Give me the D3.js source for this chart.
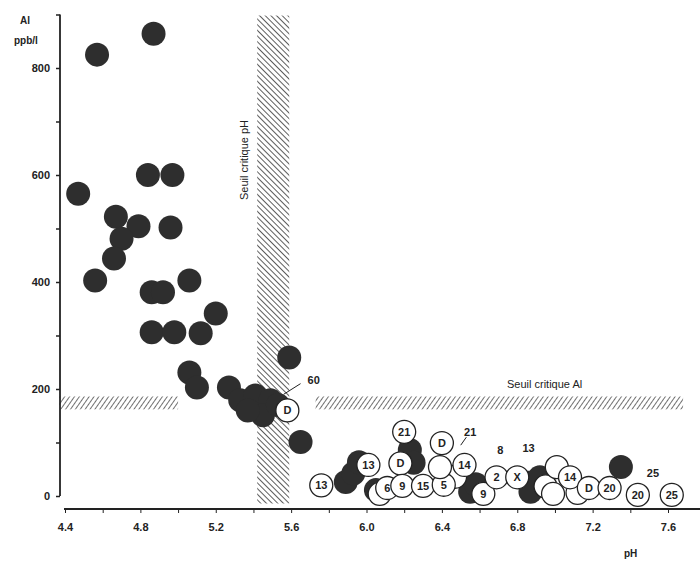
<!DOCTYPE html>
<html>
<head>
<meta charset="utf-8">
<script src="https://cdn.jsdelivr.net/npm/d3@7"></script>
<style>
  body { margin: 0; background: #fff; }
  svg { font-family: "Liberation Sans", Arial, sans-serif; }
  .tick text { font-size: 11px; font-weight: bold; fill: #222; }
</style>
</head>
<body>
<div id="chart"></div>
<script>
// filled dots: [pH, Al]
const filledDots = [
  [4.57, 825], [4.87, 864], [4.47, 565], [4.84, 600], [4.97, 600],
  [4.67, 522], [4.79, 504], [4.70, 481], [4.66, 444], [4.56, 403],
  [4.96, 502], [4.86, 381], [4.92, 381], [5.06, 403], [5.20, 341],
  [4.86, 306], [4.98, 306], [5.12, 304], [5.06, 231], [5.10, 203],
  [5.27, 203], [5.33, 179], [5.41, 188], [5.49, 179], [5.45, 151],
  [5.37, 160], [5.53, 170], [5.59, 259], [5.65, 101],
  [5.89, 26], [5.93, 42], [5.96, 63], [6.05, 11], [6.23, 86], [6.25, 62],
  [6.55, 8], [6.58, 22], [6.86, 25], [6.87, 8], [6.92, 35], [7.35, 54]
];

// open dots: [pH, Al, label]
const openDots = [
  [5.58, 160, "D"], [5.76, 20, "13"], [6.07, 4, ""], [6.01, 58, "13"],
  [6.20, 120, "21"], [6.18, 61, "D"], [6.11, 15, "6"], [6.19, 19, "9"],
  [6.30, 19, "15"], [6.47, 36, ""], [6.41, 21, "5"], [6.40, 99, "D"],
  [6.39, 54, ""], [6.52, 58, "14"], [6.62, 4, "9"], [6.69, 35, "2"],
  [6.80, 35, "X"], [6.95, 18, ""], [7.01, 54, ""], [7.12, 6, ""],
  [7.08, 35, "14"], [6.99, 4, ""], [7.18, 15, "D"], [7.29, 15, "20"],
  [7.44, 2, "20"], [7.62, 2, "25"]
];

// loose labels next to points: [pH, Al, text]
const pointNotes = [
  [5.72, 216, "60"], [6.55, 119, "21"], [6.71, 86, "8"],
  [6.86, 90, "13"], [7.52, 43, "25"]
];
// leader lines: [pH1, Al1, pH2, Al2]
const leaders = [
  [5.65, 210, 5.56, 190], [6.53, 110, 6.50, 95]
];

const xTicks = d3.range(4.4, 7.81, 0.2).map(v => +v.toFixed(1));
const xLabels = [4.4, 4.8, 5.2, 5.6, 6.0, 6.4, 6.8, 7.2, 7.6];
const yTicks = d3.range(0, 901, 100);
const yLabels = [0, 200, 400, 600, 800];

// threshold bands
const phBand = { from: 5.42, to: 5.59, alLow: -14, alHigh: 898 };
const alBand = { low: 162, high: 186, segments: [[4.37, 5.0], [5.73, 7.68]] };

const width = 700, height = 561;

const svg = d3.select("#chart").append("svg")
  .attr("width", width)
  .attr("height", height);

const x = d3.scaleLinear().domain([4.4, 7.6]).range([65, 668]);
const y = d3.scaleLinear().domain([0, 800]).range([496, 68]);

// hatch patterns
const defs = svg.append("defs");
const hatchV = defs.append("pattern")
  .attr("id", "hatchV")
  .attr("patternUnits", "userSpaceOnUse")
  .attr("width", 4).attr("height", 4)
  .attr("patternTransform", "rotate(-45)");
hatchV.append("line")
  .attr("x1", 0).attr("y1", 0).attr("x2", 0).attr("y2", 4)
  .attr("stroke", "#333").attr("stroke-width", 1.6);

const hatchH = defs.append("pattern")
  .attr("id", "hatchH")
  .attr("patternUnits", "userSpaceOnUse")
  .attr("width", 4).attr("height", 4)
  .attr("patternTransform", "rotate(35)");
hatchH.append("line")
  .attr("x1", 0).attr("y1", 0).attr("x2", 0).attr("y2", 4)
  .attr("stroke", "#333").attr("stroke-width", 1.4);

// vertical band (pH threshold)
svg.append("rect")
  .attr("x", x(phBand.from))
  .attr("y", y(phBand.alHigh))
  .attr("width", x(phBand.to) - x(phBand.from))
  .attr("height", y(phBand.alLow) - y(phBand.alHigh))
  .attr("fill", "url(#hatchV)");

// horizontal band (Al threshold)
svg.selectAll(".alband")
  .data(alBand.segments)
  .join("rect")
  .attr("class", "alband")
  .attr("x", d => x(d[0]))
  .attr("y", y(alBand.high))
  .attr("width", d => x(d[1]) - x(d[0]))
  .attr("height", y(alBand.low) - y(alBand.high))
  .attr("fill", "url(#hatchH)");

svg.append("text")
  .attr("transform", `translate(248, 160) rotate(-90)`)
  .attr("text-anchor", "middle")
  .attr("font-size", "11px")
  .attr("fill", "#222")
  .text("Seuil critique pH");

svg.append("text")
  .attr("x", 507).attr("y", 388)
  .attr("font-size", "11px")
  .attr("fill", "#222")
  .text("Seuil critique Al");

// X axis
const xAxis = svg.append("g")
  .attr("transform", "translate(0, 509)")
  .call(d3.axisBottom(x)
    .tickValues(xTicks)
    .tickSize(4)
    .tickPadding(10)
    .tickFormat(d => xLabels.some(v => Math.abs(v - d) < 1e-6) ? d.toFixed(1) : ""));
xAxis.select(".domain").remove();
xAxis.append("line")
  .attr("x1", x(4.4) - 1).attr("x2", width)
  .attr("y1", 0).attr("y2", 0)
  .attr("stroke", "#222").attr("stroke-width", 2.2);
xAxis.selectAll(".tick line").attr("stroke", "#222");

svg.append("text")
  .attr("x", 624).attr("y", 557)
  .attr("font-size", "10px")
  .attr("font-weight", "bold")
  .attr("fill", "#222")
  .text("pH");

// Y axis
const yAxis = svg.append("g")
  .attr("transform", "translate(60, 0)")
  .call(d3.axisLeft(y)
    .tickValues(yTicks)
    .tickSize(4)
    .tickPadding(6)
    .tickFormat(d => yLabels.includes(d) ? d : ""));
yAxis.select(".domain").remove();
yAxis.append("line")
  .attr("x1", 0).attr("x2", 0)
  .attr("y1", y(0)).attr("y2", y(900))
  .attr("stroke", "#222").attr("stroke-width", 1.8);
yAxis.selectAll(".tick line").attr("stroke", "#222").attr("stroke-width", 1.5);

svg.append("text")
  .attr("x", 20).attr("y", 24)
  .attr("font-size", "10px").attr("font-weight", "bold").attr("fill", "#222")
  .text("Al");
svg.append("text")
  .attr("x", 14).attr("y", 44)
  .attr("font-size", "10px").attr("font-weight", "bold").attr("fill", "#222")
  .text("ppb/l");

// filled dots
svg.selectAll(".filled")
  .data(filledDots)
  .join("circle")
  .attr("class", "filled")
  .attr("cx", d => x(d[0]))
  .attr("cy", d => y(d[1]))
  .attr("r", 12)
  .attr("fill", "#2e2e2e");

// open dots
const open = svg.selectAll(".open")
  .data(openDots)
  .join("g")
  .attr("class", "open")
  .attr("transform", d => `translate(${x(d[0])}, ${y(d[1])})`);
open.append("circle")
  .attr("r", 11.5)
  .attr("fill", "#fff")
  .attr("stroke", "#222")
  .attr("stroke-width", 1.3);
open.append("text")
  .attr("text-anchor", "middle")
  .attr("dy", "0.36em")
  .attr("font-size", "11px")
  .attr("font-weight", "bold")
  .attr("fill", "#222")
  .text(d => d[2]);

// leaders and notes
svg.selectAll(".leader")
  .data(leaders)
  .join("line")
  .attr("class", "leader")
  .attr("x1", d => x(d[0])).attr("y1", d => y(d[1]))
  .attr("x2", d => x(d[2])).attr("y2", d => y(d[3]))
  .attr("stroke", "#222").attr("stroke-width", 1);

svg.selectAll(".note")
  .data(pointNotes)
  .join("text")
  .attr("class", "note")
  .attr("x", d => x(d[0]))
  .attr("y", d => y(d[1]))
  .attr("text-anchor", "middle")
  .attr("dy", "0.36em")
  .attr("font-size", "11px")
  .attr("font-weight", "bold")
  .attr("fill", "#222")
  .text(d => d[2]);
</script>
</body>
</html>
